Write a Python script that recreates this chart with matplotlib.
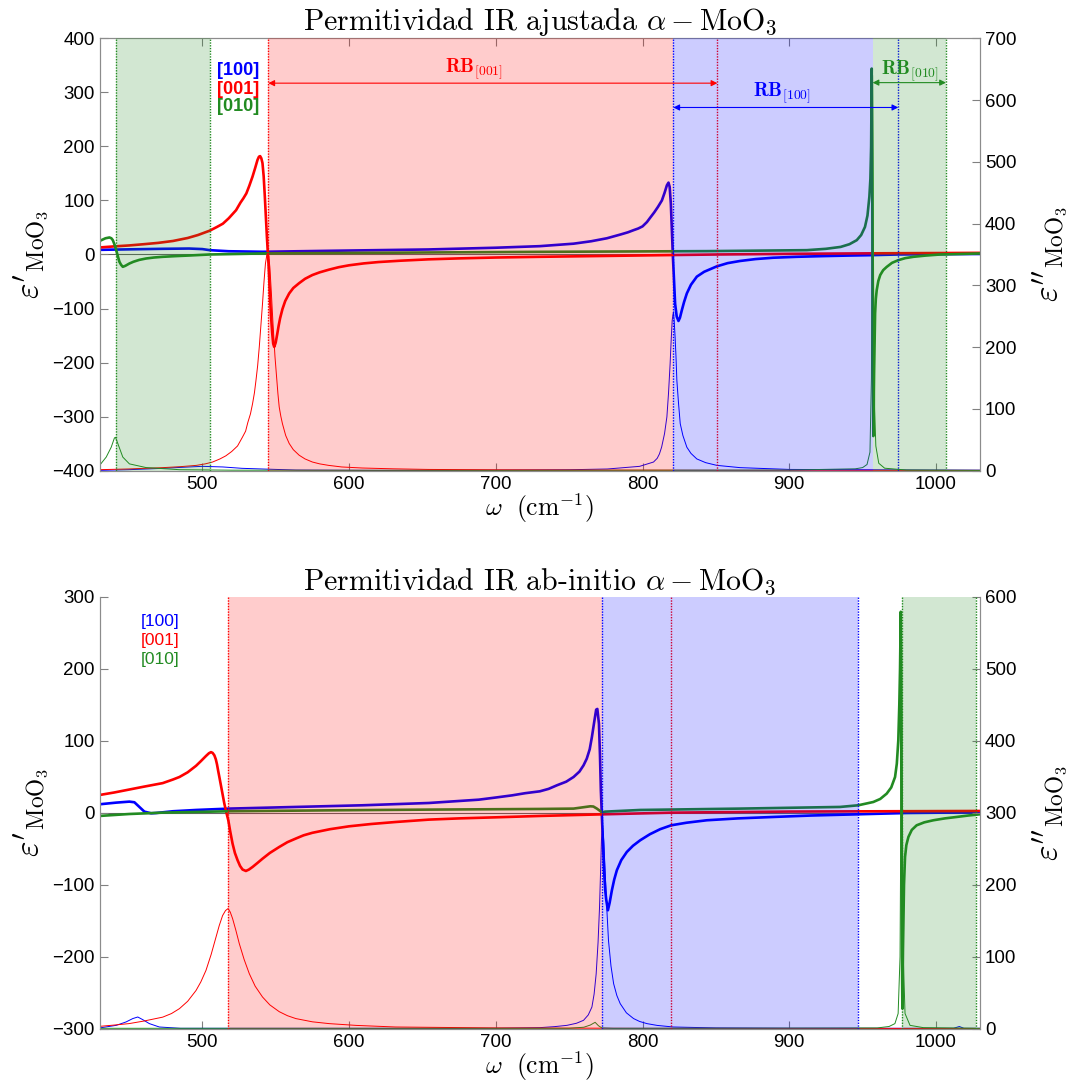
import matplotlib
matplotlib.use("Agg")
import matplotlib.pyplot as plt

plt.rcParams["font.family"] = ["Liberation Sans", "DejaVu Sans"]
plt.rcParams["mathtext.fontset"] = "cm"

# ---------------- top panel: fitted model ----------------
top_red_w = [430, 440, 450, 460, 470, 480, 490, 497, 505, 510, 514, 518, 521, 523, 526, 528, 530,
             532, 534.2, 536, 537.6, 538.6, 539.4, 540.2, 541, 541.8, 542.6, 543.3, 544, 544.6,
             545.1, 545.9, 546.7, 547.6, 548.3, 549, 550, 551, 552, 553, 554.6, 556.5,
             559.2, 562, 566, 570, 575, 580, 586.4, 593, 600, 610, 620, 635, 654, 675, 700, 730,
             780, 815, 851, 900, 960, 1030]
top_red_re = [13, 15, 16.7, 19, 21.5, 25, 30.5, 36, 44, 51, 57, 67, 76, 82, 96, 104, 113,
              127, 144, 160, 175, 181, 182, 178, 169, 145, 107, 70, 33, 5,
              -17, -65, -109, -145, -165, -171, -163, -148, -132, -118, -101, -86,
              -72, -62, -53, -45, -38, -33, -28, -23.5, -20, -16.5, -14, -11.5, -9, -7.2, -5.6, -4.3,
              -2.5, -1.2, 0, 1.2, 2.2, 3]
top_red_im_w = [430, 450, 473, 485, 496, 502, 507, 512, 516, 520, 524, 527.4, 529.5, 531, 532.8,
                534.2, 535.5, 536.5, 537.7, 538.8, 540, 541, 542, 543, 544, 544.5, 545.2, 546,
                547, 548, 549.5, 550.8, 551.5, 552.4, 553.5, 554.6, 556.8, 559.2, 562, 566, 570,
                575, 580, 586, 595, 609, 630, 654, 700, 750, 850, 1030]
top_red_im = [1.6, 2.8, 4.9, 6.5, 8.6, 11, 14, 19, 24, 31, 40, 54.5, 64, 78, 92,
              108, 126, 145, 170, 200, 238, 270, 305, 335, 350, 352, 348, 330,
              290, 245, 185, 146, 125, 103, 88, 76, 57, 44, 34, 25, 19,
              14, 11, 8.6, 6, 4.3, 3, 2, 1.4, 1, 0.7, 0.5]

top_blue_w = [430, 450, 473, 491, 500, 505, 518, 541, 586, 654, 700, 730, 753, 765, 775.7, 785,
              790, 793.9, 797, 800, 803, 805.2, 808, 810.5, 813.2, 815, 816.6, 817.7, 818.5,
              819.3, 820, 820.7, 821.5, 822.2, 823.3, 824.5, 825.5, 826.8, 828.3, 830.2, 833,
              837, 842, 850.6, 858, 866.5, 877, 889, 905, 923, 940, 957, 974, 1000, 1030]
top_blue_re = [8.6, 9.5, 10.5, 11, 10, 8, 6, 5, 6.8, 9.3, 12.5, 15.4, 20, 24.5, 30, 37,
               41, 45, 48, 52, 60, 68, 78, 88, 100, 114, 128, 133, 125,
               94, 45, -4, -50, -91, -115, -123, -117, -103, -88, -72, -56,
               -41, -32, -22, -16, -12, -8.5, -6, -4.3, -3, -2, -1.2, 0, 0.6, 1]
top_blue_im_w = [430, 450, 473, 491, 500, 514, 527, 541, 564, 620, 700, 750, 776, 798, 807.5, 810,
                 811.5, 813, 815, 816.6, 817.7, 818.8, 819.5, 820.2, 820.7, 821.1, 821.6, 822.2,
                 822.8, 823.4, 824.5, 825.7, 827.5, 830.2, 833, 837, 843, 850.6, 866.5, 900,
                 1000, 1030]
top_blue_im = [0.5, 1.6, 3.8, 6, 7, 6, 3.8, 2.7, 1, 0.5, 0.8, 1.5, 2.7, 7, 14, 20,
               27, 38, 60, 87, 125, 173, 210, 243, 252, 257, 242, 216,
               185, 146, 110, 76, 57, 38, 28, 19, 13, 8.6, 4.9, 2,
               1, 0.8]

top_green_w = [430, 432, 434, 436.7, 438, 439, 440.2, 441.3, 442.4, 443.5, 444.6, 445.8, 447.5,
               450.3, 453, 457, 461.7, 467, 473, 482, 491, 505, 541, 654, 730, 844, 912, 925, 935,
               941, 946, 949, 951.6, 953.3, 954.6, 955.3, 955.8, 956.2, 956.6, 957.0, 957.3,
               957.8, 958.5, 959, 959.6, 960.7, 962, 964, 966.4, 970, 974.3, 979, 984.6, 993,
               1003, 1030]
top_green_re = [25, 27.5, 30, 31.5, 30, 26.5, 18, 8, -3, -13.6, -19, -22.8, -21,
                -16.7, -13.5, -10, -7.4, -5.6, -4.3, -3, -1.9, 0, 1.9, 3.7, 4.9, 6.2, 8, 10.5, 14,
                19, 26.5, 36, 51, 72, 107, 140, 200, 344, 100, -200, -336,
                -220, -109, -82, -66, -49, -38, -29, -23, -15.5, -10.5, -6.8, -4.3, -2,
                0, 1.9]
top_green_im_w = [430, 434.5, 437.9, 440.1, 440.8, 442.4, 445.8, 450.3, 461.7, 484.4, 520, 700,
                  900, 945, 950, 953, 955, 956, 956.8, 957.5, 958.2, 959, 961, 965, 980, 1030]
top_green_im = [8.6, 22, 38, 53, 54, 44, 22, 11, 5, 1.6, 0.8, 0.5,
                1, 3, 5, 10, 30, 150, 640, 300, 100, 40, 12, 4, 1, 0.5]

# ---------------- bottom panel: ab-initio ----------------
bot_red_w = [430, 440, 450, 460, 473, 480, 484.4, 490, 495.7, 499, 502.5, 504.5, 505.9, 507,
             508.2, 509.2, 510, 510.8, 511.6, 513.3, 515, 516.4, 517.7, 519, 520.6, 522.2, 524,
             525.7, 527.4, 529.7, 531.8, 534.2, 537.5, 541, 546, 552.4, 558, 563.7, 569, 575,
             587, 600, 615, 631.7, 654.4, 675, 700, 730, 770, 820, 900, 1030]
bot_red_re = [24.5, 28, 32, 36, 41, 46, 49.5, 56, 65, 71.5, 78.7, 82.5, 84, 83,
              79.6, 74, 67, 58, 49.5, 31, 12.5, 0, -10.6, -26, -43, -56, -66,
              -74, -79, -81, -79, -75.5, -70, -64, -56, -47.7, -41, -36, -31.5, -28,
              -23, -19, -15.8, -13, -9.7, -8, -6.5, -4.6, -2.5, 0, 1.5, 2.3]
bot_red_im_w = [430, 440, 450, 460, 473, 479, 484.4, 490, 495.7, 499, 502.5, 506, 509.3, 511.5,
                513.8, 515.8, 517.5, 519, 520.6, 522.8, 525.2, 528.5, 532, 536, 541, 546, 552.4,
                558, 563.7, 575, 586.4, 605, 631.7, 700, 800, 1030]
bot_red_im = [3.2, 5, 7, 10.5, 16, 21, 27.8, 38, 53, 65, 81, 103, 127, 143,
              157, 164, 166.7, 162, 153, 137, 118, 96, 76.4, 59, 44, 33, 23.6,
              18, 14, 9.5, 7, 4.5, 2.3, 1, 0.5, 0.3]

bot_blue_w = [430, 441.3, 450.3, 453.7, 457.1, 460.5, 465.1, 468.5, 479.8, 495.7, 518.4, 563.7,
              609, 654.4, 688.4, 700, 711.1, 720, 730, 736, 741.7, 748, 753, 757, 759.8, 762,
              764, 765.5, 767, 768.4, 769.2, 770.3, 771, 771.6, 772.5, 773.2, 773.9, 774.6,
              775.2, 776.4, 777.6, 779.1, 780.7, 782.5, 785.5, 789.3, 793.5, 798.4, 805, 812,
              819.5, 830, 843.8, 865, 889.2, 915, 947, 980, 1030]
bot_blue_re = [11.6, 13.9, 15.3, 14.4, 7.9, 1.4, -0.9, -0.5, 1.9, 3.7, 5.6, 7.9,
               10.2, 13.4, 18, 21, 24, 27, 29.6, 33, 38, 43, 49.5, 57, 65.7, 75,
               88, 105, 125, 143, 144, 123.6, 80, 31, -15, -50, -84.7, -108,
               -120, -135.6, -125, -108, -93, -80, -66, -54.6, -46, -38.4, -30, -23,
               -17.6, -14, -10.6, -8, -6, -4, -2.3, -0.5, 0.5]
bot_blue_im_w = [430, 441.3, 448, 452.6, 456, 459.4, 463.9, 470.7, 485, 700, 730, 740, 748.5, 755,
                 759.8, 763, 765.5, 767, 768.4, 769.7, 770.7, 771.5, 772, 772.8, 773.6, 774.6,
                 775.7, 776.8, 778.5, 780.3, 782.5, 784.8, 789, 793.9, 798, 803, 810, 821, 850,
                 900, 1012, 1015.9, 1019, 1030]
bot_blue_im = [1, 4.6, 9.3, 14, 16.2, 12.5, 7, 2.3, 0.5, 0.5, 1.4, 2.8, 4.6, 7.5,
               11.6, 19, 30, 48, 76, 120, 169, 225, 262, 282, 260, 215,
               165, 122.5, 87, 62.5, 46, 34.7, 22, 14, 10, 7, 4.5, 2.3, 1,
               0.5, 0.5, 3, 0.5, 0.5]

bot_green_w = [430, 450.3, 473, 518.4, 586.4, 654.4, 730, 753, 764.4, 766.5, 768.9, 772.3, 774.6,
               798.4, 866.5, 934.6, 947, 957.3, 962, 966.4, 969.5, 972.1, 973.3, 974.3, 975,
               975.5, 976.0, 976.4, 976.8, 977.1, 977.5, 978.2, 978.9, 979.8, 981.2, 983.5,
               986.8, 992, 998.2, 1006, 1014.1, 1022, 1030]
bot_green_re = [-4.6, -1.9, 0, 1.9, 3.2, 4.2, 5.1, 5.6, 8.8, 8.5, 5.6, 0.5, 1.4,
                3.7, 5.6, 7.9, 10.2, 14.8, 19, 26.4, 35, 49.5, 68, 100, 150,
                200, 279, 50, -200, -272, -190, -100, -61.6, -45, -33.8, -24,
                -17.6, -13.5, -10.6, -8, -6, -4, -2.3]
bot_green_im_w = [430, 750, 760, 764.4, 767.7, 770, 772.3, 780, 960, 968, 972, 974.2, 975.5,
                  976.2, 976.6, 977, 977.7, 978.9, 982.3, 991.4, 1030]
bot_green_im = [0.5, 0.5, 2, 5, 8.8, 4, 1, 0.5, 1, 3, 7, 21, 100,
                350, 540, 350, 100, 21, 4.6, 1.4, 0.5]

# Reststrahlen bands (shaded) and band edges (dotted)
top_spans = [(441.3, 505, "forestgreen"), (545, 821, "red"), (821, 956.8, "blue"),
             (956.8, 1006.8, "forestgreen")]
top_edges = [(441.3, "forestgreen"), (505, "forestgreen"), (545, "red"), (851, "red"),
             (821, "blue"), (974.3, "blue"), (1006.8, "forestgreen")]
bot_spans = [(517.5, 772.5, "red"), (772.5, 947.1, "blue"), (976.6, 1027.2, "forestgreen")]
bot_edges = [(517.5, "red"), (819.5, "red"), (772.5, "blue"), (947.1, "blue"),
             (976.6, "forestgreen"), (1027.2, "forestgreen")]

fig = plt.figure(figsize=(10.7, 10.82), dpi=100)
ax_top = fig.add_axes([0.0931, 0.5650, 0.8228, 0.3996])
ax_bot = fig.add_axes([0.0931, 0.0493, 0.8228, 0.3993])


def panel(ax, title, ylim, y2lim, series, spans, edges, top_box):
    ax2 = ax.twinx()
    for w, v, c in series["re"]:
        ax.plot(w, v, color=c, lw=1.9, zorder=2)
    ax.axhline(0, color="k", lw=0.8, alpha=0.6, zorder=1)
    for w, v, c in series["im"]:
        ax2.plot(w, v, color=c, lw=0.7, zorder=2)
    for x, c in edges:
        ax2.axvline(x, color=c, lw=1.0, ls=(0, (1, 1)), zorder=2.5)
    for a, b, c in spans:
        ax2.axvspan(a, b, color=c, alpha=0.2, lw=0, zorder=3)

    ax.set_xlim(430, 1030)
    ax.set_ylim(*ylim)
    ax2.set_ylim(*y2lim)
    ax.set_xticks([500, 600, 700, 800, 900, 1000])
    ax.set_yticks(range(ylim[0], ylim[1] + 1, 100))
    ax2.set_yticks(range(y2lim[0], y2lim[1] + 1, 100))
    for a in (ax, ax2):
        a.tick_params(direction="in", length=6, width=0.8, color="0.5",
                      labelsize=13.5, top=top_box)
        for s in a.spines.values():
            s.set_color("0.55")
        a.spines["top"].set_visible(top_box)

    ax.set_title(title, fontsize=21.5, family="cmr10", pad=5)
    ax.set_xlabel(r"$\omega\ \ (\mathrm{cm}^{-1})$", fontsize=18.5, labelpad=-1)
    ax.set_ylabel(r"$\varepsilon'_{\mathrm{MoO_3}}$", fontsize=24)
    ax2.set_ylabel(r"$\varepsilon''_{\mathrm{MoO_3}}$", fontsize=24, rotation=90)
    ax.yaxis.set_label_coords(-0.055, 0.5)
    ax2.yaxis.set_label_coords(1.057, 0.5)
    return ax2


top2 = panel(ax_top, r"Permitividad IR ajustada $\alpha-\mathrm{MoO_3}$", (-400, 400), (0, 700),
             {"re": [(top_blue_w, top_blue_re, "blue"), (top_red_w, top_red_re, "red"),
                     (top_green_w, top_green_re, "forestgreen")],
              "im": [(top_blue_im_w, top_blue_im, "blue"), (top_red_im_w, top_red_im, "red"),
                     (top_green_im_w, top_green_im, "forestgreen")]},
             top_spans, top_edges, True)
bot2 = panel(ax_bot, r"Permitividad IR ab-initio $\alpha-\mathrm{MoO_3}$", (-300, 300), (0, 600),
             {"re": [(bot_blue_w, bot_blue_re, "blue"), (bot_red_w, bot_red_re, "red"),
                     (bot_green_w, bot_green_re, "forestgreen")],
              "im": [(bot_blue_im_w, bot_blue_im, "blue"), (bot_red_im_w, bot_red_im, "red"),
                     (bot_green_im_w, bot_green_im, "forestgreen")]},
             bot_spans, bot_edges, False)

# direction labels
dirs = ["[100]", "[001]", "[010]"]
dir_colors = ["blue", "red", "forestgreen"]
top_dir_y = [340, 306, 274]
bot_dir_y = [265, 239, 213]
for d, c, y in zip(dirs, dir_colors, top_dir_y):
    top2.text(524.6, y, d, color=c, fontsize=13, fontweight="bold", ha="center", va="center",
              transform=ax_top.transData, zorder=6)
for d, c, y in zip(dirs, dir_colors, bot_dir_y):
    bot2.text(471.5, y, d, color=c, fontsize=12.5, ha="center", va="center",
              transform=ax_bot.transData, zorder=6)

# reststrahlen band arrows (top panel)
rb_names = [r"$\mathbf{RB}_{\mathbf{[001]}}$", r"$\mathbf{RB}_{\mathbf{[100]}}$",
            r"$\mathbf{RB}_{\mathbf{[010]}}$"]
rb_start = [545, 821, 956.8]
rb_end = [851, 974.3, 1006.8]
rb_arrow_y = [317, 272, 318]
rb_label_x = [685, 895, 982.3]
rb_label_y = [343, 298, 338]
rb_colors = ["red", "blue", "forestgreen"]
for n, a, b, ya, xl, yl, c in zip(rb_names, rb_start, rb_end, rb_arrow_y, rb_label_x,
                                  rb_label_y, rb_colors):
    top2.annotate("", xy=(a, ya), xytext=(b, ya), xycoords=ax_top.transData,
                  textcoords=ax_top.transData,
                  arrowprops=dict(arrowstyle="<|-|>", color=c, lw=0.8, mutation_scale=9,
                                  shrinkA=0, shrinkB=0), zorder=6)
    top2.text(xl, yl, n, color=c, fontsize=14, ha="center", va="center",
              transform=ax_top.transData, zorder=6)

fig.savefig("out.png", dpi=100)
